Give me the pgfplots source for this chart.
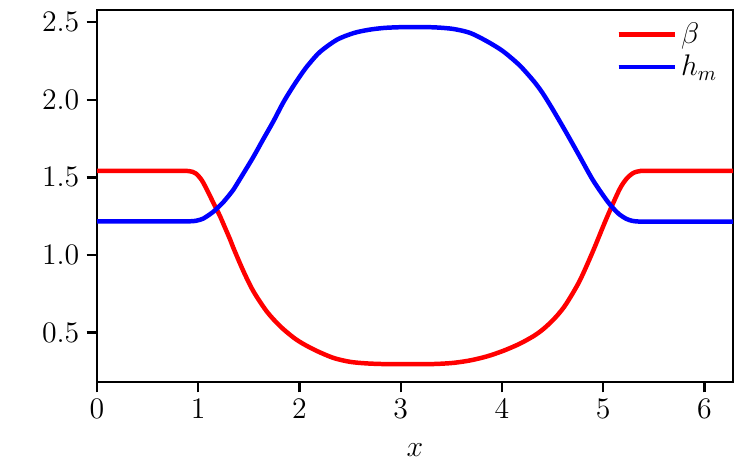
\documentclass[border=0pt]{standalone}
\usepackage{pgfplots}
\pgfplotsset{compat=1.18}
\begin{document}
\begin{tikzpicture}
\useasboundingbox (-46.7bp,-38.5bp) rectangle (313.3bp,183.8bp);
\begin{axis}[
  at={(0,0)}, anchor=south west,
  scale only axis, width=306.1bp, height=179.0bp,
  xmin=0, xmax=6.2832, ymin=0.181, ymax=2.579,
  xtick={0,1,2,3,4,5,6},
  ytick={0.5,1.0,1.5,2.0,2.5},
  yticklabel style={/pgf/number format/fixed,/pgf/number format/fixed zerofill,/pgf/number format/precision=1},
  tick label style={font=\fontsize{14.4bp}{17bp}\selectfont},
  label style={font=\fontsize{14.4bp}{17bp}\selectfont},
  tick pos=left, tick align=outside,
  major tick length=5bp,
  every tick/.style={black, line width=1.15bp},
  axis line style={line width=1.15bp},
  xlabel={$x$},
  xlabel style={yshift=-5bp},
  legend style={draw=none, fill=none, at={(1,1)}, anchor=north east, xshift=-2.5bp, yshift=-2bp, row sep=0bp, font=\fontsize{14.4bp}{17bp}\selectfont},
  legend cell align=left,
  legend image code/.code={\path (0bp,0bp) -- (27bp,0bp); \draw[#1] (0bp,0bp) -- (22bp,0bp);},
  every axis plot/.append style={line width=2.16bp, line join=round, smooth},
]
\addplot[red] coordinates {
(0,1.542) (0.3,1.542) (0.6,1.542) (0.8,1.542) (0.87,1.542) (0.91,1.540) (0.945,1.535)
(0.98,1.523) (1.017,1.497) (1.05,1.465)
(1.116,1.380) (1.149,1.336) (1.215,1.250) (1.248,1.200) (1.314,1.100) (1.347,1.045)
(1.446,0.895) (1.545,0.765) (1.677,0.635) (1.809,0.540) (1.941,0.467) (2.04,0.425)
(2.173,0.380) (2.338,0.335) (2.503,0.310) (2.668,0.300) (2.83,0.296) (3.0,0.295)
(3.195,0.295) (3.36,0.297) (3.525,0.304) (3.69,0.320) (3.855,0.346) (4.0,0.378)
(4.119,0.410) (4.2,0.435) (4.317,0.478) (4.40,0.517) (4.482,0.565) (4.55,0.612) (4.634,0.683)
(4.766,0.830) (4.897,1.020) (5.029,1.229) (5.16,1.420) (5.23,1.49) (5.29,1.525)
(5.33,1.536) (5.37,1.541) (5.42,1.542) (5.6,1.542) (5.9,1.542) (6.2832,1.542)
};
\addlegendentry{$\beta$}
\addplot[blue] coordinates {
(0,1.216) (0.3,1.216) (0.6,1.216) (0.8,1.216) (0.88,1.216) (0.935,1.217) (0.98,1.220) (1.017,1.226) (1.05,1.234) (1.116,1.262)
(1.149,1.278) (1.215,1.318) (1.248,1.340) (1.314,1.392) (1.347,1.420) (1.446,1.525)
(1.545,1.632) (1.644,1.748) (1.743,1.862) (1.842,1.985) (1.941,2.090) (2.04,2.185)
(2.106,2.240) (2.205,2.310) (2.37,2.387) (2.535,2.430) (2.683,2.451) (2.833,2.463)
(3.0,2.468) (3.195,2.469) (3.36,2.466) (3.525,2.456) (3.69,2.430) (3.855,2.376)
(4.0,2.318) (4.119,2.255) (4.2,2.205) (4.317,2.118) (4.40,2.045) (4.50,1.940) (4.634,1.790)
(4.766,1.637) (4.897,1.484) (5.029,1.357) (5.10,1.300) (5.16,1.261) (5.23,1.232)
(5.29,1.219) (5.35,1.215) (5.42,1.214) (5.6,1.214) (5.9,1.214) (6.2832,1.214)
};
\addlegendentry{$h_m$}
\end{axis}
\end{tikzpicture}
\end{document}
